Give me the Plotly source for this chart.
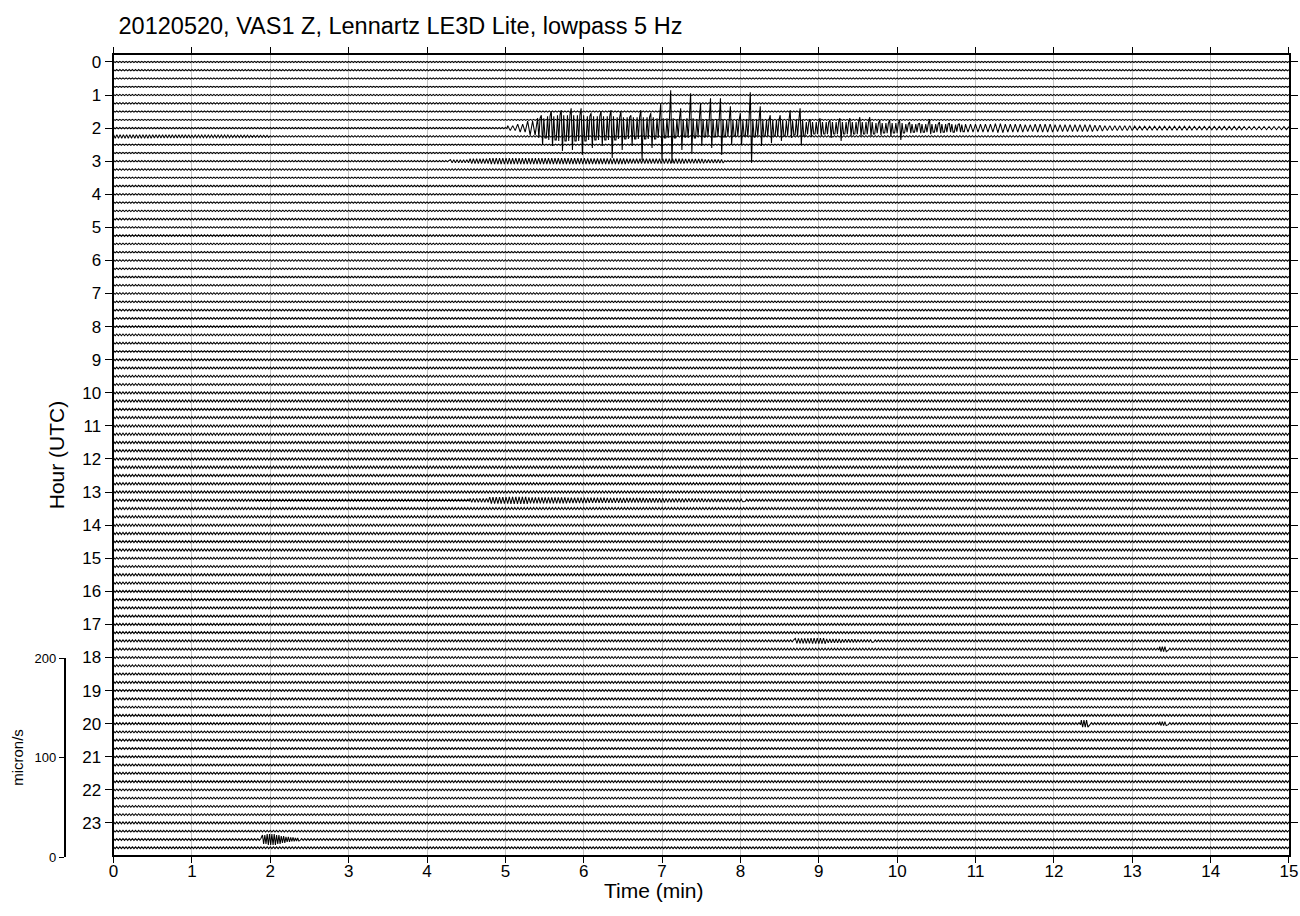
import numpy as np
import plotly.graph_objects as go

# ---------------------------------------------------------------------------
# Helicorder layout: 24 hours, four 15-minute lines per hour
# ---------------------------------------------------------------------------
HOURS = list(range(24))
MINUTE_TICKS = list(range(16))
LINES_PER_HOUR = 4
LINE_MINUTES = 15
SCALE_TICKS = [0, 100, 200]          # micron/s

# background noise half-amplitude of every 15-minute line (micron/s)
NOISE_LEVEL = [
    0.6, 0.7, 0.6, 0.5,   # 00
    0.6, 0.7, 0.6, 0.5,   # 01
    0.6, 0.7, 0.6, 0.6,   # 02
    0.7, 0.8, 0.6, 0.7,   # 03
    0.7, 0.7, 0.7, 0.8,   # 04
    0.7, 0.8, 0.7, 0.7,   # 05
    0.8, 0.8, 0.7, 0.8,   # 06
    0.8, 0.8, 0.8, 0.8,   # 07
    0.8, 0.9, 0.9, 0.8,   # 08
    0.9, 0.9, 1.0, 1.0,   # 09
    1.0, 1.1, 1.0, 1.1,   # 10
    1.1, 1.1, 1.1, 1.1,   # 11
    1.1, 1.2, 1.1, 1.1,   # 12
    1.1, 1.1, 1.1, 1.1,   # 13
    1.1, 1.1, 1.0, 1.1,   # 14
    1.0, 1.0, 1.1, 1.0,   # 15
    1.0, 1.0, 1.0, 1.0,   # 16
    1.0, 1.0, 1.0, 1.0,   # 17
    1.0, 1.0, 0.9, 1.0,   # 18
    0.9, 1.0, 0.9, 1.0,   # 19
    1.0, 0.9, 1.0, 0.9,   # 20
    0.9, 0.9, 0.9, 1.0,   # 21
    0.9, 0.9, 0.9, 0.9,   # 22
    1.0, 0.9, 0.9, 0.9,   # 23
]

# main shock on the 02:00 line: peak up / peak down / dense core per bin (micron/s)
QUAKE_LINE = (2, 0)
QUAKE_START = 5.03
QUAKE_STEP = 0.127
QUAKE_UP = [
    2.5, 4, 7, 13, 17, 18, 20, 20, 15, 17, 18, 17, 13, 18, 15, 25, 38, 20, 35, 25,
    30, 30, 22, 15, 36, 22, 13, 13, 18, 20, 9, 10, 8, 10, 10, 11, 11, 8, 8, 8,
    6, 5, 9, 6, 5, 4.5, 4, 4, 4, 4.5, 4, 4, 3.5, 4, 4, 3.5, 3.5, 3.5, 3.5, 3,
    2.5, 2.5, 2.5, 2, 2, 2, 2, 2, 2, 1.8, 1.8, 1.8, 1.8, 1.8, 1.6, 1.6, 1.6, 1.6, 1.5,
]
QUAKE_DOWN = [
    2.5, 4, 7, 17, 18, 23, 22, 27, 20, 18, 30, 22, 18, 32, 20, 32, 35, 22, 25, 18,
    20, 27, 17, 17, 35, 18, 15, 13, 10, 17, 9, 8, 10, 13, 8, 8, 8, 7, 8, 12,
    5, 5, 6, 5, 4, 4, 4, 4, 4, 4.5, 4, 4, 3.5, 4, 4, 3.5, 3.5, 3.5, 3.5, 3,
    2.5, 2.5, 2.5, 2, 2, 2, 2, 2, 2, 1.8, 1.8, 1.8, 1.8, 1.8, 1.6, 1.6, 1.6, 1.6, 1.5,
]
QUAKE_CORE = [
    2.5, 4, 7, 10, 12, 13, 13, 13, 12, 12, 12, 11, 11, 11, 11, 10, 10, 9, 10, 9,
    9, 9, 8, 8, 9, 8, 8, 8, 7, 8, 6, 6, 6, 6, 6, 6, 6, 5, 5, 5,
    4, 4, 4, 4, 4, 3.5, 4, 4, 4, 4.5, 4, 4, 3.5, 4, 4, 3.5, 3.5, 3.5, 3.5, 3,
    2.5, 2.5, 2.5, 2, 2, 2, 2, 2, 2, 1.8, 1.8, 1.8, 1.8, 1.8, 1.6, 1.6, 1.6, 1.6, 1.5,
]

# smaller events: (hour, quarter, start minute, bin length, half-amplitudes in micron/s)
CODA_0215 = (2, 1, 0.0, 0.25, [1.8, 1.8, 1.6, 1.6, 1.4, 1.4, 1.2, 1.0])
AFTERSHOCK_0300 = (3, 0, 4.3, 0.25, [1.5, 2.5, 3.0, 3.0, 3.0, 3.0, 3.0, 2.8, 2.8, 2.5, 2.5, 2.5, 2.2, 1.8])
AFTERSHOCK_1315 = (13, 1, 4.55, 0.25, [2.0, 3.2, 3.5, 3.0, 3.0, 2.8, 2.6, 2.5, 2.3, 2.2, 2.0, 1.8, 1.6, 1.4])
EVENT_1730 = (17, 2, 8.7, 0.2, [2.5, 2.8, 2.0, 1.6, 1.4])
EVENT_1745 = (17, 3, 13.35, 0.1, [2.5])
EVENT_2000A = (20, 0, 12.35, 0.1, [3.5])
EVENT_2000B = (20, 0, 13.35, 0.1, [2.0])
EVENT_2330 = (23, 2, 1.9, 0.06, [4.5, 5.5, 5.5, 4.5, 3.5, 2.5, 2.0, 1.5])
SMALL_EVENTS = [CODA_0215, AFTERSHOCK_0300, AFTERSHOCK_1315, EVENT_1730,
                EVENT_1745, EVENT_2000A, EVENT_2000B, EVENT_2330]

# ---------------------------------------------------------------------------
# Axis geometry
# ---------------------------------------------------------------------------
W, H = 1300, 916
M_L, M_R, M_T, M_B = 0, 11, 55, 59
PAPER_W = W - M_L - M_R
PLOT_H = H - M_T - M_B
Y_TOP, Y_BOTTOM = -0.21, 23.97        # hours, reversed axis
MAIN_DOMAIN = [2 / PLOT_H, 1.0]
HOURS_PER_PX = (Y_BOTTOM - Y_TOP) / (PLOT_H * (MAIN_DOMAIN[1] - MAIN_DOMAIN[0]))
GAIN = HOURS_PER_PX * 199 / 200       # hours of offset per micron/s
SCALE_DOMAIN = [0.0, 200 * GAIN / (Y_BOTTOM - Y_TOP) * (MAIN_DOMAIN[1] - MAIN_DOMAIN[0])]

NOISE_DT = 0.02


def envelope_samples(start, step, env):
    n = max(2, int(round(step / NOISE_DT)))
    if n % 2:
        n += 1
    sub = step / n
    ts, vs = [], []
    for i, a in enumerate(env):
        t0 = start + i * step
        for k in range(n):
            ts.append(t0 + k * sub)
            vs.append(a if k % 2 == 0 else -a)
    return np.array(ts), np.array(vs), start, start + len(env) * step


def quake_samples():
    # strong-motion bins: dense core with one full peak-to-peak swing;
    # coda bins (no spike above the core): a plain oscillation
    ts, vs = [], []
    for i, (u, d, c) in enumerate(zip(QUAKE_UP, QUAKE_DOWN, QUAKE_CORE)):
        t0 = QUAKE_START + i * QUAKE_STEP
        if u > c or d > c:
            pattern = [c, -c, c, u, -d, c, -c, -c]
        else:
            pattern = [c, -c, c, -c]
        sub = QUAKE_STEP / len(pattern)
        for k, p in enumerate(pattern):
            ts.append(t0 + k * sub)
            vs.append(p)
    end = QUAKE_START + len(QUAKE_UP) * QUAKE_STEP
    return np.array(ts), np.array(vs), QUAKE_START, end


def line_points(level, line_events):
    t = np.arange(0, LINE_MINUTES + 1e-9, NOISE_DT)
    v = np.where(np.arange(t.size) % 2 == 0, level, -level)
    keep = np.ones(t.size, bool)
    extra_t, extra_v = [], []
    for et, ev, a, b in line_events:
        keep &= ~((t >= a) & (t < b))
        extra_t.append(et)
        extra_v.append(ev)
    t = np.concatenate([t[keep]] + extra_t)
    v = np.concatenate([v[keep]] + extra_v)
    order = np.argsort(t, kind="stable")
    t, v = t[order], v[order]
    inside = t <= LINE_MINUTES
    return t[inside], v[inside]


events = {}
for h, q, s, st, env in SMALL_EVENTS:
    events.setdefault(h * LINES_PER_HOUR + q, []).append(envelope_samples(s, st, env))
events.setdefault(QUAKE_LINE[0] * LINES_PER_HOUR + QUAKE_LINE[1], []).append(quake_samples())

xs, ys = [], []
for idx, level in enumerate(NOISE_LEVEL):
    hour, quarter = divmod(idx, LINES_PER_HOUR)
    base = hour + quarter / LINES_PER_HOUR
    t, v = line_points(level, events.get(idx, []))
    xs.extend(t.tolist() + [None])
    ys.extend((base - v * GAIN).tolist() + [None])

FONT = "Liberation Sans, Arial, Helvetica, sans-serif"

fig = go.Figure()
fig.add_trace(go.Scatter(
    x=xs, y=ys, mode="lines",
    line=dict(color="black", width=1.05),
    hoverinfo="skip", showlegend=False,
))
# anchor trace for the amplitude scale bar (its own small subplot in the left margin)
fig.add_trace(go.Scatter(
    x=[0, 0], y=[SCALE_TICKS[0], SCALE_TICKS[-1]], xaxis="x2", yaxis="y2", mode="markers",
    marker=dict(opacity=0), hoverinfo="skip", showlegend=False,
))

fig.update_layout(
    width=W, height=H,
    margin=dict(l=M_L, r=M_R, t=M_T, b=M_B),
    paper_bgcolor="white", plot_bgcolor="rgba(0,0,0,0)",
    font=dict(family=FONT, color="black"),
    title=dict(
        text="20120520, VAS1 Z, Lennartz LE3D Lite, lowpass 5 Hz",
        font=dict(size=23.5, family=FONT, color="black"),
        x=114 / PAPER_W, xref="paper", xanchor="left",
        y=1 - 26 / H, yref="container", yanchor="middle",
    ),
    xaxis=dict(
        domain=[109 / PAPER_W, 1.0],
        range=[0, LINE_MINUTES],
        tickmode="array", tickvals=MINUTE_TICKS, ticktext=[str(m) for m in MINUTE_TICKS],
        ticks="outside", ticklen=6, tickwidth=1, tickcolor="black",
        showline=True, linewidth=2, linecolor="black", mirror="allticks",
        showgrid=True, gridcolor="#c4c4c4", gridwidth=1,
        zeroline=False,
        tickfont=dict(size=17),
        ticklabelstandoff=-6,
    ),
    yaxis=dict(
        domain=MAIN_DOMAIN,
        range=[Y_BOTTOM, Y_TOP],
        tickmode="array", tickvals=HOURS, ticktext=[str(h) for h in HOURS],
        ticks="outside", ticklen=7, tickwidth=1, tickcolor="black",
        showline=True, linewidth=2, linecolor="black", mirror="allticks",
        showgrid=False, zeroline=False,
        tickfont=dict(size=17),
        title=dict(text="Hour (UTC)", font=dict(size=21), standoff=12),
    ),
    xaxis2=dict(
        domain=[61 / PAPER_W, 70 / PAPER_W], anchor="y2", visible=False,
        range=[0, 1], showgrid=False, zeroline=False,
    ),
    yaxis2=dict(
        domain=SCALE_DOMAIN, anchor="x2", side="left",
        range=[SCALE_TICKS[0], SCALE_TICKS[-1]],
        tickmode="array", tickvals=SCALE_TICKS, ticktext=[str(s) for s in SCALE_TICKS],
        ticks="outside", ticklen=5, tickwidth=1, tickcolor="black",
        showline=True, linewidth=2, linecolor="black",
        showgrid=False, zeroline=False,
        tickfont=dict(size=13),
        title=dict(text="micron/s", font=dict(size=15), standoff=7),
    ),
    annotations=[dict(
        text="Time (min)", showarrow=False,
        x=652 / PAPER_W, xref="paper", xanchor="center",
        y=-(890 - (H - M_B)) / PLOT_H, yref="paper", yanchor="middle",
        font=dict(size=21, family=FONT, color="black"),
    )],
)

fig.write_html("out.html")
